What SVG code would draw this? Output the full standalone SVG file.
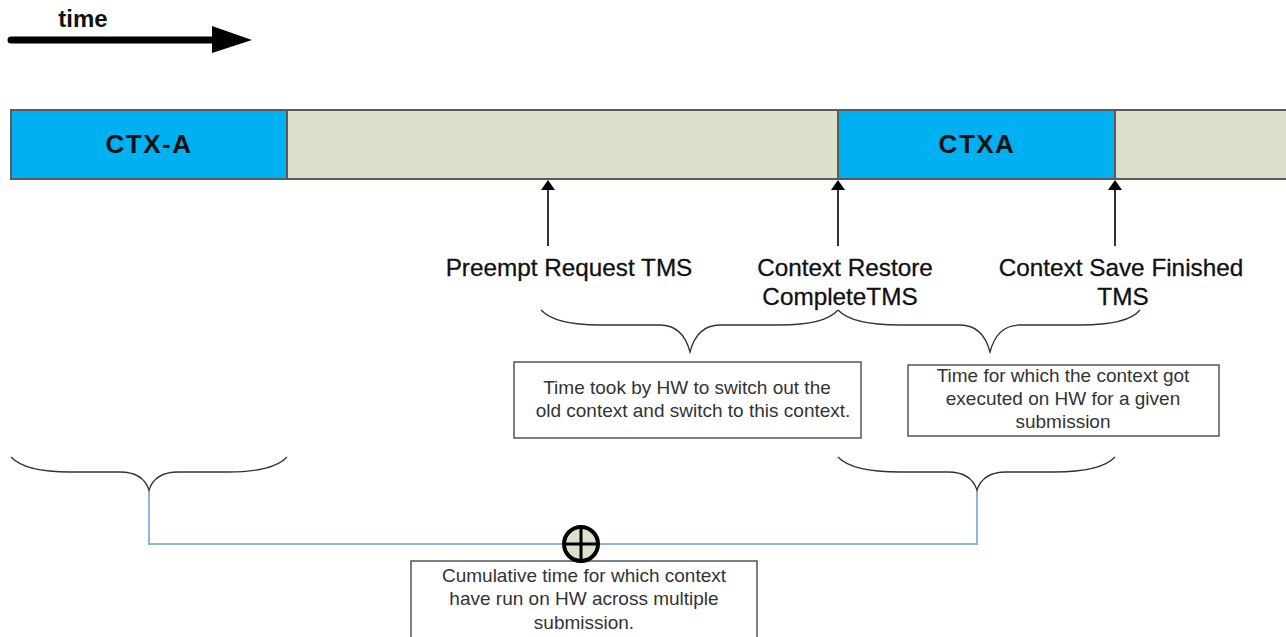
<svg xmlns="http://www.w3.org/2000/svg" width="1286" height="637" viewBox="0 0 1286 637">
<defs>
<style>
.seg{stroke:#5a5a5a;stroke-width:2}
.blue{fill:#00b0f0}
.gray{fill:#dcdfca}
.ctx{font-family:"Liberation Sans",Arial,sans-serif;font-weight:bold;font-size:26px;letter-spacing:1.5px;fill:#111;text-anchor:middle}
.lbl{font-family:"Liberation Sans",Arial,sans-serif;font-size:24.3px;fill:#111;stroke:#111;stroke-width:0.3;text-anchor:middle}
.note{font-family:"Liberation Sans",Arial,sans-serif;font-size:19px;fill:#333;text-anchor:middle}
.box{fill:#fff;stroke:#555;stroke-width:1.5}
.brace{fill:none;stroke:#333;stroke-width:1.3}
.ptr{stroke:#333;stroke-width:2;fill:none}
.sum{fill:none;stroke:#8eb4e3;stroke-width:2}
</style>
<marker id="ah" viewBox="0 0 10 14" refX="9" refY="7" markerWidth="10" markerHeight="14" markerUnits="userSpaceOnUse" orient="auto">
<path d="M0,0 L10,7 L0,14 Z" fill="#000"/>
</marker>
</defs>

<g id="time-arrow">
<line x1="11" y1="40" x2="214" y2="40" stroke="#000" stroke-width="7" stroke-linecap="round"/>
<polygon points="212,26 252,40 212,53" fill="#000"/>
<text x="83" y="27" font-family="Liberation Sans,Arial,sans-serif" font-weight="bold" font-size="24" text-anchor="middle" fill="#111">time</text>
</g>

<g id="timeline">
<g id="seg-ctx-a">
<rect class="seg blue" x="11" y="110" width="276" height="69"/>
<text class="ctx" x="149" y="153">CTX-A</text>
</g>
<g id="seg-gap1">
<rect class="seg gray" x="287" y="110" width="551" height="69"/>
</g>
<g id="seg-ctxa">
<rect class="seg blue" x="838" y="110" width="277" height="69"/>
<text class="ctx" x="977" y="153">CTXA</text>
</g>
<g id="seg-gap2">
<rect class="seg gray" x="1115" y="110" width="180" height="69"/>
</g>
</g>

<g id="connectors">
<line class="ptr" x1="548" y1="246" x2="548" y2="181" marker-end="url(#ah)"/>
<line class="ptr" x1="838" y1="246" x2="838" y2="181" marker-end="url(#ah)"/>
<line class="ptr" x1="1115" y1="246" x2="1115" y2="181" marker-end="url(#ah)"/>
<path class="sum" d="M149,490 V544 H977 V490"/>
</g>

<g id="label-preempt">
<text class="lbl" x="569" y="276">Preempt Request TMS</text>
</g>
<g id="label-restore">
<text class="lbl" x="845" y="276">Context Restore</text>
<text class="lbl" x="840" y="305">CompleteTMS</text>
</g>
<g id="label-save">
<text class="lbl" x="1121" y="276">Context Save Finished</text>
<text class="lbl" x="1123" y="305">TMS</text>
</g>

<g id="brace-switch">
<path class="brace" d="M541,310 Q555,325 600,325 L660,325 Q683,325 690,352 Q697,325 720,325 L780,325 Q825,325 838,310"/>
</g>
<g id="brace-exec">
<path class="brace" d="M838,310 Q852,325 900,325 L960,325 Q983,325 990,352 Q997,325 1020,325 L1080,325 Q1128,325 1140,310"/>
</g>
<g id="brace-left">
<path class="brace" d="M11,457 Q25,472 70,472 L120,472 Q143,472 149,490 Q155,472 178,472 L228,472 Q273,472 287,457"/>
</g>
<g id="brace-right">
<path class="brace" d="M838,457 Q852,472 900,472 L948,472 Q971,472 977,490 Q983,472 1006,472 L1054,472 Q1101,472 1115,457"/>
</g>

<g id="note-switch">
<rect class="box" x="514" y="362" width="347" height="76"/>
<text class="note" x="687" y="394">Time took by HW to switch out the</text>
<text class="note" x="693" y="417">old context and switch to this context.</text>
</g>
<g id="note-exec">
<rect class="box" x="908" y="365" width="311" height="71"/>
<text class="note" x="1063" y="382">Time for which the context got</text>
<text class="note" x="1063" y="405">executed on HW for a given</text>
<text class="note" x="1063" y="428">submission</text>
</g>
<g id="note-cumulative">
<rect class="box" x="411" y="561" width="346" height="80"/>
<text class="note" x="584" y="582">Cumulative time for which context</text>
<text class="note" x="584" y="605">have run on HW across multiple</text>
<text class="note" x="584" y="629">submission.</text>
</g>

<g id="sum-node">
<circle cx="581" cy="544" r="17" fill="#dcdfca" stroke="#000" stroke-width="4"/>
<line x1="581" y1="527" x2="581" y2="561" stroke="#000" stroke-width="3"/>
<line x1="564" y1="544" x2="598" y2="544" stroke="#000" stroke-width="3"/>
</g>
</svg>
